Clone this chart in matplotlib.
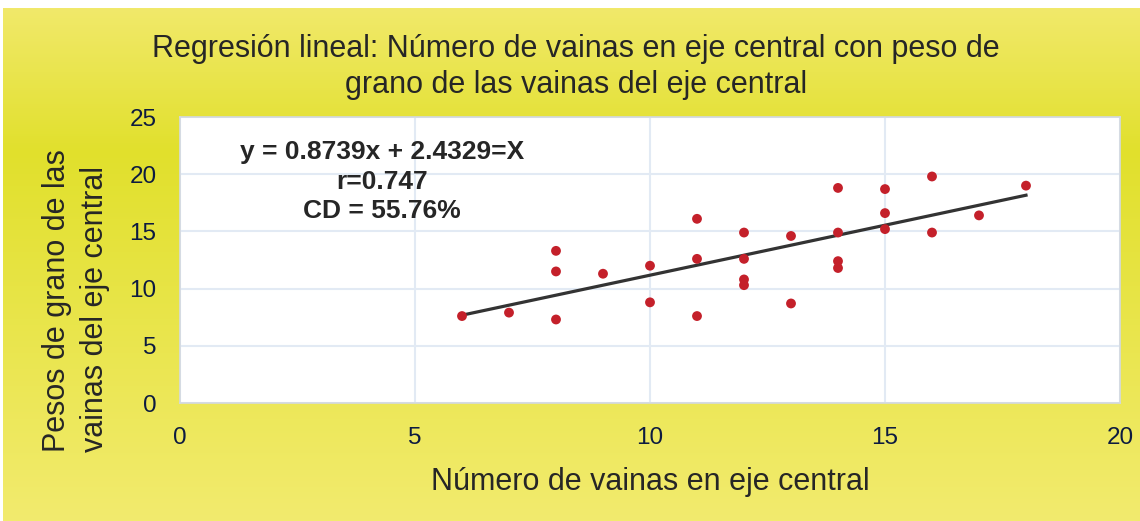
import matplotlib.pyplot as plt
import numpy as np
from matplotlib.colors import LinearSegmentedColormap

plt.rcParams['font.family'] = ['Liberation Sans', 'DejaVu Sans']

# data
vainas = [6, 7, 8, 8, 8, 9, 10, 10, 11, 11, 11, 12, 12, 12, 12, 13, 13,
          14, 14, 14, 14, 15, 15, 15, 16, 16, 17, 18]
peso = [7.6, 7.9, 13.3, 11.5, 7.3, 11.3, 12.0, 8.8, 16.1, 12.6, 7.6, 14.9, 12.6, 10.8, 10.3, 14.6, 8.7,
        18.8, 14.9, 12.4, 11.8, 18.7, 16.6, 15.2, 19.8, 14.9, 16.4, 19.0]
pendiente = 0.8739
intercepto = 2.4329
x_ticks = [0, 5, 10, 15, 20]
y_ticks = [0, 5, 10, 15, 20, 25]

titulo = "Regresión lineal: Número de vainas en eje central con peso de\ngrano de las vainas del eje central"
etiqueta_x = "Número de vainas en eje central"
etiqueta_y = "Pesos de grano de las\nvainas del eje central"
texto_ec = "y = 0.8739x + 2.4329=X\nr=0.747\nCD = 55.76%"

fig = plt.figure(figsize=(11.4, 5.21), dpi=100)
fig.patch.set_facecolor('white')

# yellow gradient background
bg = fig.add_axes([3 / 1140, 0, 1 - 3 / 1140, 513 / 521], zorder=-5)
cmap = LinearSegmentedColormap.from_list(
    'amarillo', [(0, '#f2eb6e'), (0.72, '#e1e02c'), (1, '#f1e96a')])
grad = np.linspace(0, 1, 256).reshape(-1, 1)
bg.imshow(grad, aspect='auto', cmap=cmap, origin='lower', extent=[0, 1, 0, 1])
bg.set_axis_off()

ax = fig.add_axes([180 / 1140, 1 - 403 / 521, 940 / 1140, 286 / 521])
ax.set_facecolor('white')
ax.set_xlim(0, 20)
ax.set_ylim(0, 25)
ax.set_xticks(x_ticks)
ax.set_yticks(y_ticks)
ax.grid(True, color='#e2eaf4', linewidth=1.5)
ax.set_axisbelow(True)
for s in ax.spines.values():
    s.set_color('#d3d9e0')
    s.set_linewidth(1.2)
ax.tick_params(length=0, labelsize=17.5, colors='#0d1b40')
ax.tick_params(axis='x', pad=17)
ax.tick_params(axis='y', pad=17)

xl = np.array([min(vainas), max(vainas)])
ax.plot(xl, pendiente * xl + intercepto, color='#333333', linewidth=2.3, zorder=2)
ax.scatter(vainas, peso, s=50, color='#c4202a', zorder=3, edgecolors='none')

ax.text(0.215, 0.92, texto_ec, transform=ax.transAxes, ha='center', va='top',
        fontsize=19, fontweight='bold', color='#262626', linespacing=1.3)

fig.text(0.505, 0.935, titulo, ha='center', va='top', fontsize=22,
         color='#262626', linespacing=1.26)
ax.set_xlabel(etiqueta_x, fontsize=22, color='#262626', labelpad=13)
fig.text(76 / 1140, 1 - 301 / 521, etiqueta_y, rotation=90, ha='center', va='center',
         multialignment='left', fontsize=22, color='#262626', linespacing=1.38)

fig.savefig('out.png', dpi=100)
